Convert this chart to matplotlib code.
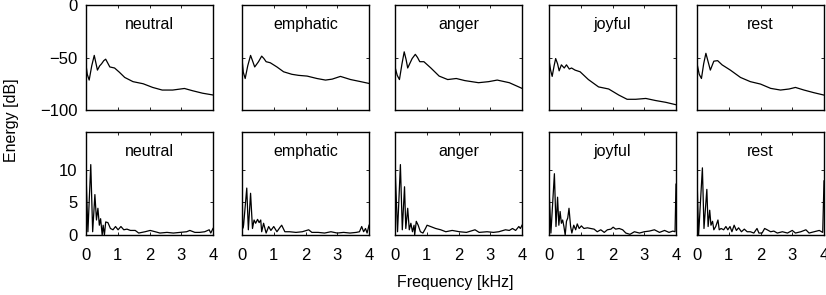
import matplotlib.pyplot as plt

plt.rcParams['font.family'] = ['Liberation Sans', 'DejaVu Sans']

emotions = ['neutral', 'emphatic', 'anger', 'joyful', 'rest']

# top row: smoothed spectrum in dB
neutral_f = [0, 0.04, 0.1, 0.18, 0.26, 0.31, 0.36, 0.43, 0.49, 0.56, 0.62, 0.68, 0.75, 0.9, 1.05, 1.22, 1.48, 1.8, 2.1, 2.4, 2.73, 3.1, 3.35, 3.67, 4.0]
neutral_db = [-57, -66, -71.5, -58, -48, -55, -62, -58, -56, -53, -51.6, -55, -59, -60, -64, -69, -73, -75, -78.5, -81, -81, -79.5, -81.6, -84, -85.7]
emphatic_f = [0, 0.04, 0.1, 0.18, 0.27, 0.33, 0.4, 0.52, 0.62, 0.69, 0.76, 0.89, 1.1, 1.31, 1.57, 1.78, 2.05, 2.36, 2.63, 2.84, 3.1, 3.42, 3.74, 4.0]
emphatic_db = [-51, -64, -70, -58, -48, -53, -59, -54, -48.7, -51, -54, -55, -59, -63.6, -66, -67, -67.7, -70, -71.5, -70.6, -68, -71, -73, -74.7]
anger_f = [0, 0.07, 0.14, 0.22, 0.29, 0.35, 0.4, 0.54, 0.64, 0.71, 0.78, 0.91, 1.13, 1.39, 1.66, 1.93, 2.2, 2.63, 2.95, 3.22, 3.6, 4.0]
anger_db = [-59, -67, -71, -56, -44.6, -52, -60, -51, -47, -50, -54, -54, -60, -67.7, -71, -70, -72, -74, -73, -71.5, -74, -79.4]
joyful_f = [0, 0.05, 0.1, 0.16, 0.21, 0.27, 0.32, 0.39, 0.48, 0.55, 0.64, 0.71, 0.82, 0.98, 1.24, 1.56, 1.88, 2.2, 2.46, 2.73, 3.05, 3.36, 3.68, 4.0]
joyful_db = [-52.5, -62, -68, -58, -51, -56, -62.7, -57, -60, -57, -61, -60, -62, -63.6, -71, -78, -80, -85.8, -89.8, -89.8, -89, -91, -92.7, -95]
rest_f = [0, 0.07, 0.14, 0.21, 0.28, 0.35, 0.42, 0.53, 0.65, 0.79, 1.05, 1.37, 1.68, 2.0, 2.32, 2.63, 2.9, 3.1, 3.37, 3.68, 4.0]
rest_db = [-55.7, -66, -70, -56, -46, -54, -62, -53.5, -53, -57, -62, -69, -73, -75.3, -79.4, -81, -80, -78.5, -81, -83.5, -85.8]

# bottom row: linear energy
neutral_lf = [0, 0.06, 0.15, 0.21, 0.28, 0.33, 0.375, 0.42, 0.46, 0.51, 0.54, 0.58, 0.62, 0.69, 0.77, 0.85, 0.93, 1.01, 1.1, 1.19,
              1.29, 1.4, 1.55, 1.66, 1.86, 2.02, 2.18, 2.33, 2.55, 2.75, 2.96, 3.17, 3.27, 3.43, 3.58, 3.74, 3.88, 3.93, 4.0]
neutral_e = [9.5, 0.5, 10.8, 0.5, 6.2, 2.3, 4.1, 1.5, 2.5, 0.0, 1.5, 0.0, 2.0, 1.9, 1.0, 0.8, 1.3, 0.8, 1.3, 0.8,
             0.9, 0.7, 0.7, 0.3, 0.5, 0.7, 0.5, 0.3, 0.4, 0.3, 0.4, 0.5, 0.7, 0.4, 0.4, 0.5, 0.8, 0.3, 1.0]
emphatic_lf = [0, 0.02, 0.05, 0.15, 0.2, 0.27, 0.33, 0.38, 0.43, 0.49, 0.54, 0.59, 0.62, 0.68, 0.76, 0.84, 0.91, 1.0, 1.1, 1.2,
               1.25, 1.35, 1.5, 1.7, 1.9, 2.1, 2.2, 2.4, 2.6, 2.8, 3.0, 3.2, 3.4, 3.6, 3.7, 3.77, 3.83, 3.89, 3.94, 4.0]
emphatic_e = [11.7, 1.0, 1.5, 7.2, 0.8, 6.4, 1.0, 2.3, 1.8, 2.4, 1.9, 2.3, 0.5, 1.8, 0.3, 1.3, 0.7, 1.3, 0.5, 1.2,
              1.5, 0.5, 0.5, 0.4, 0.5, 0.8, 0.4, 0.4, 0.3, 0.5, 0.3, 0.4, 0.3, 0.4, 0.5, 1.3, 0.5, 1.0, 0.3, 1.5]
anger_lf = [0, 0.08, 0.17, 0.23, 0.3, 0.34, 0.4, 0.45, 0.5, 0.55, 0.6, 0.62, 0.67, 0.73, 0.8, 0.88, 0.96, 1.01, 1.12, 1.28,
            1.44, 1.6, 1.8, 2.03, 2.25, 2.52, 2.65, 2.9, 3.1, 3.27, 3.48, 3.6, 3.7, 3.8, 3.9, 3.95, 4.0]
anger_e = [10.8, 0.5, 10.8, 0.8, 7.4, 1.0, 4.1, 0.8, 1.8, 0.5, 1.5, 0.0, 2.1, 1.5, 0.5, 0.3, 1.0, 1.5, 1.3, 1.0,
           0.8, 0.5, 0.7, 0.5, 0.4, 0.8, 0.4, 0.5, 0.4, 0.5, 0.8, 0.7, 1.0, 0.7, 1.3, 1.0, 1.5]
joyful_lf = [0, 0.06, 0.17, 0.22, 0.27, 0.31, 0.35, 0.39, 0.43, 0.47, 0.51, 0.55, 0.59, 0.63, 0.68, 0.72, 0.78, 0.84, 0.89, 0.95,
             1.02, 1.1, 1.21, 1.31, 1.42, 1.52, 1.63, 1.74, 1.84, 1.95, 2.02, 2.1, 2.21, 2.32, 2.42, 2.55, 2.69, 2.85, 3.0, 3.16,
             3.32, 3.48, 3.64, 3.78, 3.9, 3.97, 4.0]
joyful_e = [7.2, 0.3, 9.4, 1.3, 5.8, 1.5, 3.6, 1.8, 2.3, 1.3, 0.0, 2.1, 2.6, 4.1, 1.3, 0.3, 1.5, 0.8, 1.7, 1.0,
            1.4, 1.0, 1.1, 1.0, 0.9, 0.5, 0.8, 0.4, 0.8, 0.9, 1.2, 0.9, 1.0, 0.8, 0.3, 0.1, 0.5, 0.3, 0.5, 0.6,
            0.8, 0.4, 0.7, 0.4, 0.6, 0.5, 7.8]
rest_lf = [0, 0.05, 0.17, 0.22, 0.31, 0.35, 0.4, 0.44, 0.49, 0.53, 0.59, 0.66, 0.7, 0.76, 0.84, 0.91, 0.97, 1.04, 1.1, 1.17,
           1.24, 1.31, 1.4, 1.49, 1.58, 1.68, 1.79, 1.89, 1.95, 2.05, 2.13, 2.21, 2.32, 2.42, 2.53, 2.69, 2.85, 3.0, 3.1, 3.27,
           3.43, 3.53, 3.69, 3.85, 3.96, 4.0]
rest_e = [9.0, 0.0, 10.3, 1.0, 7.0, 1.3, 3.8, 1.5, 2.1, 0.8, 1.3, 2.3, 0.8, 1.0, 0.8, 1.3, 0.8, 1.3, 0.5, 1.5,
          0.7, 1.1, 0.5, 0.9, 0.5, 0.5, 0.3, 1.0, 0.3, 0.3, 1.0, 0.8, 0.5, 0.6, 0.3, 0.5, 0.3, 0.7, 0.3, 0.5,
          0.8, 0.3, 0.5, 0.7, 0.4, 8.3]

top_data = [(neutral_f, neutral_db), (emphatic_f, emphatic_db), (anger_f, anger_db),
            (joyful_f, joyful_db), (rest_f, rest_db)]
bottom_data = [(neutral_lf, neutral_e), (emphatic_lf, emphatic_e), (anger_lf, anger_e),
               (joyful_lf, joyful_e), (rest_lf, rest_e)]

fig = plt.figure(figsize=(8.26, 2.95), dpi=100)

lefts = [86, 242, 395, 549, 697]
W, H = 826.0, 295.0
pw = 127

for i, emo in enumerate(emotions):
    for row in range(2):
        if row == 0:
            ax = fig.add_axes([lefts[i] / W, (H - 110) / H, pw / W, 105 / H])
            f, v = top_data[i]
            ax.set_ylim(-100, 0)
            ax.set_yticks([-100, -50, 0])
        else:
            ax = fig.add_axes([lefts[i] / W, (H - 235) / H, pw / W, 103 / H])
            f, v = bottom_data[i]
            ax.set_ylim(0, 15.8)
            ax.set_yticks([0, 5, 10])
        ax.plot(f, v, color='black', lw=0.9)
        ax.set_xlim(0, 4)
        ax.set_xticks([0, 1, 2, 3, 4])
        ax.tick_params(direction='in', length=2.5, width=0.6, top=True, right=True,
                       labelsize=12, pad=6)
        ax.tick_params(axis='x', pad=9.5)
        for s in ax.spines.values():
            s.set_linewidth(1.0)
        if i > 0:
            ax.set_yticklabels([])
        if row == 0:
            ax.set_xticklabels([])
        ax.text(0.5, 0.81, emo, transform=ax.transAxes, ha='center', va='center', fontsize=11.5)

fig.text(12 / W, 1 - 120 / H, 'Energy [dB]', rotation=90, ha='center', va='center', fontsize=11.5)
fig.text(455 / W, 1 - 282 / H, 'Frequency [kHz]', ha='center', va='center', fontsize=11.5)

fig.savefig('out.png', dpi=100)
